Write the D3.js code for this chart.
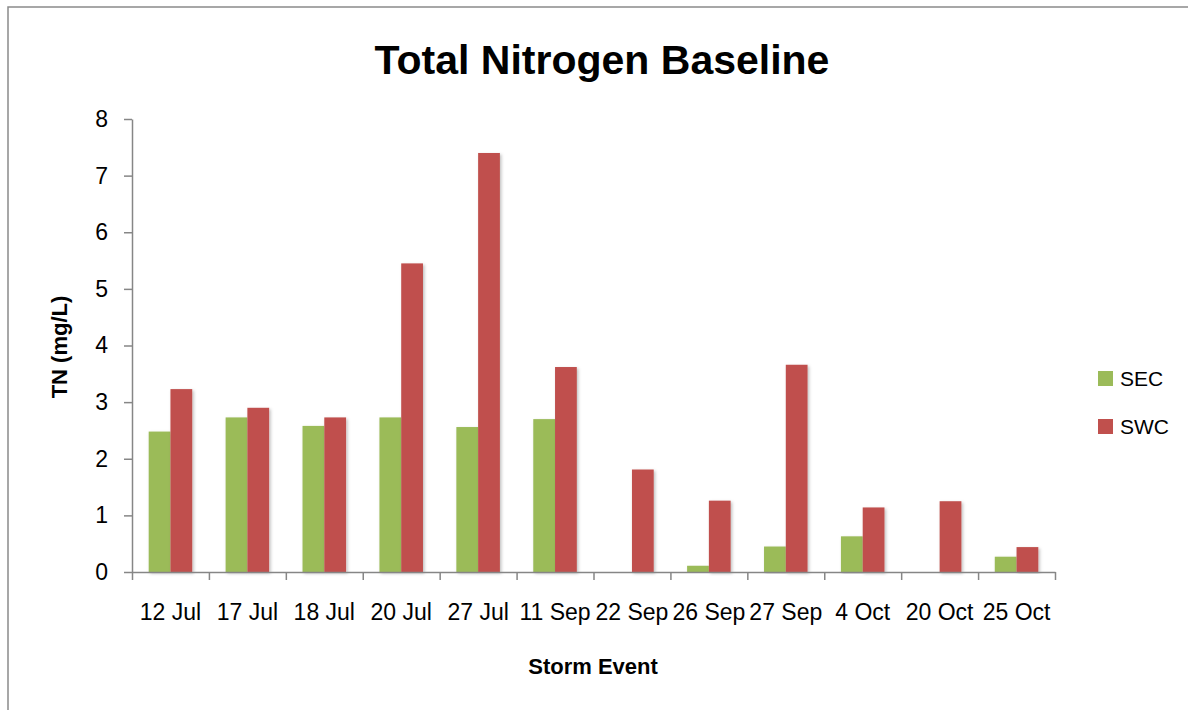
<!DOCTYPE html>
<html>
<head>
<meta charset="utf-8">
<script src="https://cdn.jsdelivr.net/npm/d3@7"></script>
<style>
	body { margin: 0; background: #fff; }
	svg { display: block; font-family: 'Liberation Sans', Arial, sans-serif; }
</style>
</head>
<body>
<svg id="chart"></svg>
<script>
const DIMENSION = {
	width: 1188,
	height: 710,
	margin: {
		left: 132,
		right: 133,
		top: 119,
		bottom: 138
	}
};

DIMENSION.trueWidth = DIMENSION.width - (DIMENSION.margin.left + DIMENSION.margin.right);
DIMENSION.trueHeight = DIMENSION.height - (DIMENSION.margin.top + DIMENSION.margin.bottom);

const CONTAINER = '#chart';

const events = ['12 Jul', '17 Jul', '18 Jul', '20 Jul', '27 Jul', '11 Sep', '22 Sep', '26 Sep', '27 Sep', '4 Oct', '20 Oct', '25 Oct'];
const seriesNames = ['SEC', 'SWC'];
const secValues = [2.48, 2.73, 2.58, 2.73, 2.56, 2.70, 0, 0.11, 0.45, 0.63, 0, 0.27];
const swcValues = [3.23, 2.90, 2.73, 5.45, 7.40, 3.62, 1.81, 1.26, 3.66, 1.14, 1.25, 0.44];
const yTicks = [0, 1, 2, 3, 4, 5, 6, 7, 8];
const colors = ['#9bbb59', '#c0504d'];

const svg = d3.select(CONTAINER)
	.attr('width', DIMENSION.width)
	.attr('height', DIMENSION.height);

// outer chart frame (cut off at right/bottom like the original)
svg.append('rect')
	.attr('x', 8)
	.attr('y', 7)
	.attr('width', DIMENSION.width)
	.attr('height', DIMENSION.height)
	.attr('fill', 'none')
	.attr('stroke', '#8a8a8a')
	.attr('stroke-width', 1.5);

const defs = svg.append('defs');
defs.append('filter')
	.attr('id', 'shadow')
	.attr('x', '-30%').attr('y', '-5%').attr('width', '160%').attr('height', '110%')
	.append('feDropShadow')
	.attr('dx', 1.5).attr('dy', 1.5)
	.attr('stdDeviation', 1.5)
	.attr('flood-color', '#000')
	.attr('flood-opacity', 0.25);

svg.append('text')
	.attr('x', 602)
	.attr('y', 74)
	.attr('text-anchor', 'middle')
	.attr('font-size', 41)
	.attr('font-weight', 'bold')
	.text('Total Nitrogen Baseline');

const g = svg.append('g')
	.attr('transform', `translate(${DIMENSION.margin.left},${DIMENSION.margin.top})`);

const xScale = d3.scaleBand()
	.domain(events)
	.range([0, DIMENSION.trueWidth]);

const xEdges = d3.scaleLinear()
	.domain([0, events.length])
	.range([0, DIMENSION.trueWidth]);

const subScale = d3.scaleBand()
	.domain(seriesNames)
	.range([xScale.bandwidth() * 0.217, xScale.bandwidth() * 0.783]);

const yScale = d3.scaleLinear()
	.domain([0, 8])
	.range([DIMENSION.trueHeight, 0]);

const data = events.map((e, i) => ({ event: e, values: [secValues[i], swcValues[i]] }));

// bars
const groups = g.append('g')
	.selectAll('g')
	.data(data)
	.join('g')
	.attr('transform', d => `translate(${xScale(d.event)},0)`);

groups.selectAll('rect')
	.data(d => d.values.map((v, i) => ({ name: seriesNames[i], value: v, color: colors[i] })))
	.join('rect')
	.filter(d => d.value > 0)
	.attr('x', d => subScale(d.name))
	.attr('width', subScale.bandwidth())
	.attr('y', d => yScale(d.value))
	.attr('height', d => yScale(0) - yScale(d.value))
	.attr('fill', d => d.color)
	.attr('filter', 'url(#shadow)');

// y axis
const yAxis = g.append('g')
	.call(d3.axisLeft(yScale).tickValues(yTicks).tickSize(8).tickPadding(16).tickSizeOuter(0));
yAxis.selectAll('text').attr('font-size', 23).attr('fill', '#000').attr('font-family', null);
yAxis.selectAll('line, path').attr('stroke', '#868686').attr('stroke-width', 1.5);

// x axis: boundary ticks
const xAxisTicks = g.append('g')
	.attr('transform', `translate(0,${DIMENSION.trueHeight})`)
	.call(d3.axisBottom(xEdges).ticks(events.length).tickSize(8).tickSizeOuter(0).tickFormat(''));
xAxisTicks.selectAll('line, path').attr('stroke', '#868686').attr('stroke-width', 1.5);

// x axis: labels
const xAxisLabels = g.append('g')
	.attr('transform', `translate(0,${DIMENSION.trueHeight})`)
	.call(d3.axisBottom(xScale).tickSize(0).tickPadding(32));
xAxisLabels.select('.domain').remove();
xAxisLabels.selectAll('text').attr('font-size', 23).attr('fill', '#000').attr('font-family', null);

// axis titles
svg.append('text')
	.attr('x', 593)
	.attr('y', 674)
	.attr('text-anchor', 'middle')
	.attr('font-size', 22)
	.attr('font-weight', 'bold')
	.text('Storm Event');

svg.append('text')
	.attr('transform', 'translate(67,347) rotate(-90)')
	.attr('text-anchor', 'middle')
	.attr('font-size', 22)
	.attr('font-weight', 'bold')
	.text('TN (mg/L)');

// legend
const legend = svg.append('g')
	.selectAll('g')
	.data(seriesNames)
	.join('g')
	.attr('transform', (d, i) => `translate(1098,${371 + i * 48})`);

legend.append('rect')
	.attr('width', 15)
	.attr('height', 15)
	.attr('fill', (d, i) => colors[i]);

legend.append('text')
	.attr('x', 22)
	.attr('y', 8)
	.attr('dy', '0.35em')
	.attr('font-size', 21)
	.text(d => d);
</script>
</body>
</html>
